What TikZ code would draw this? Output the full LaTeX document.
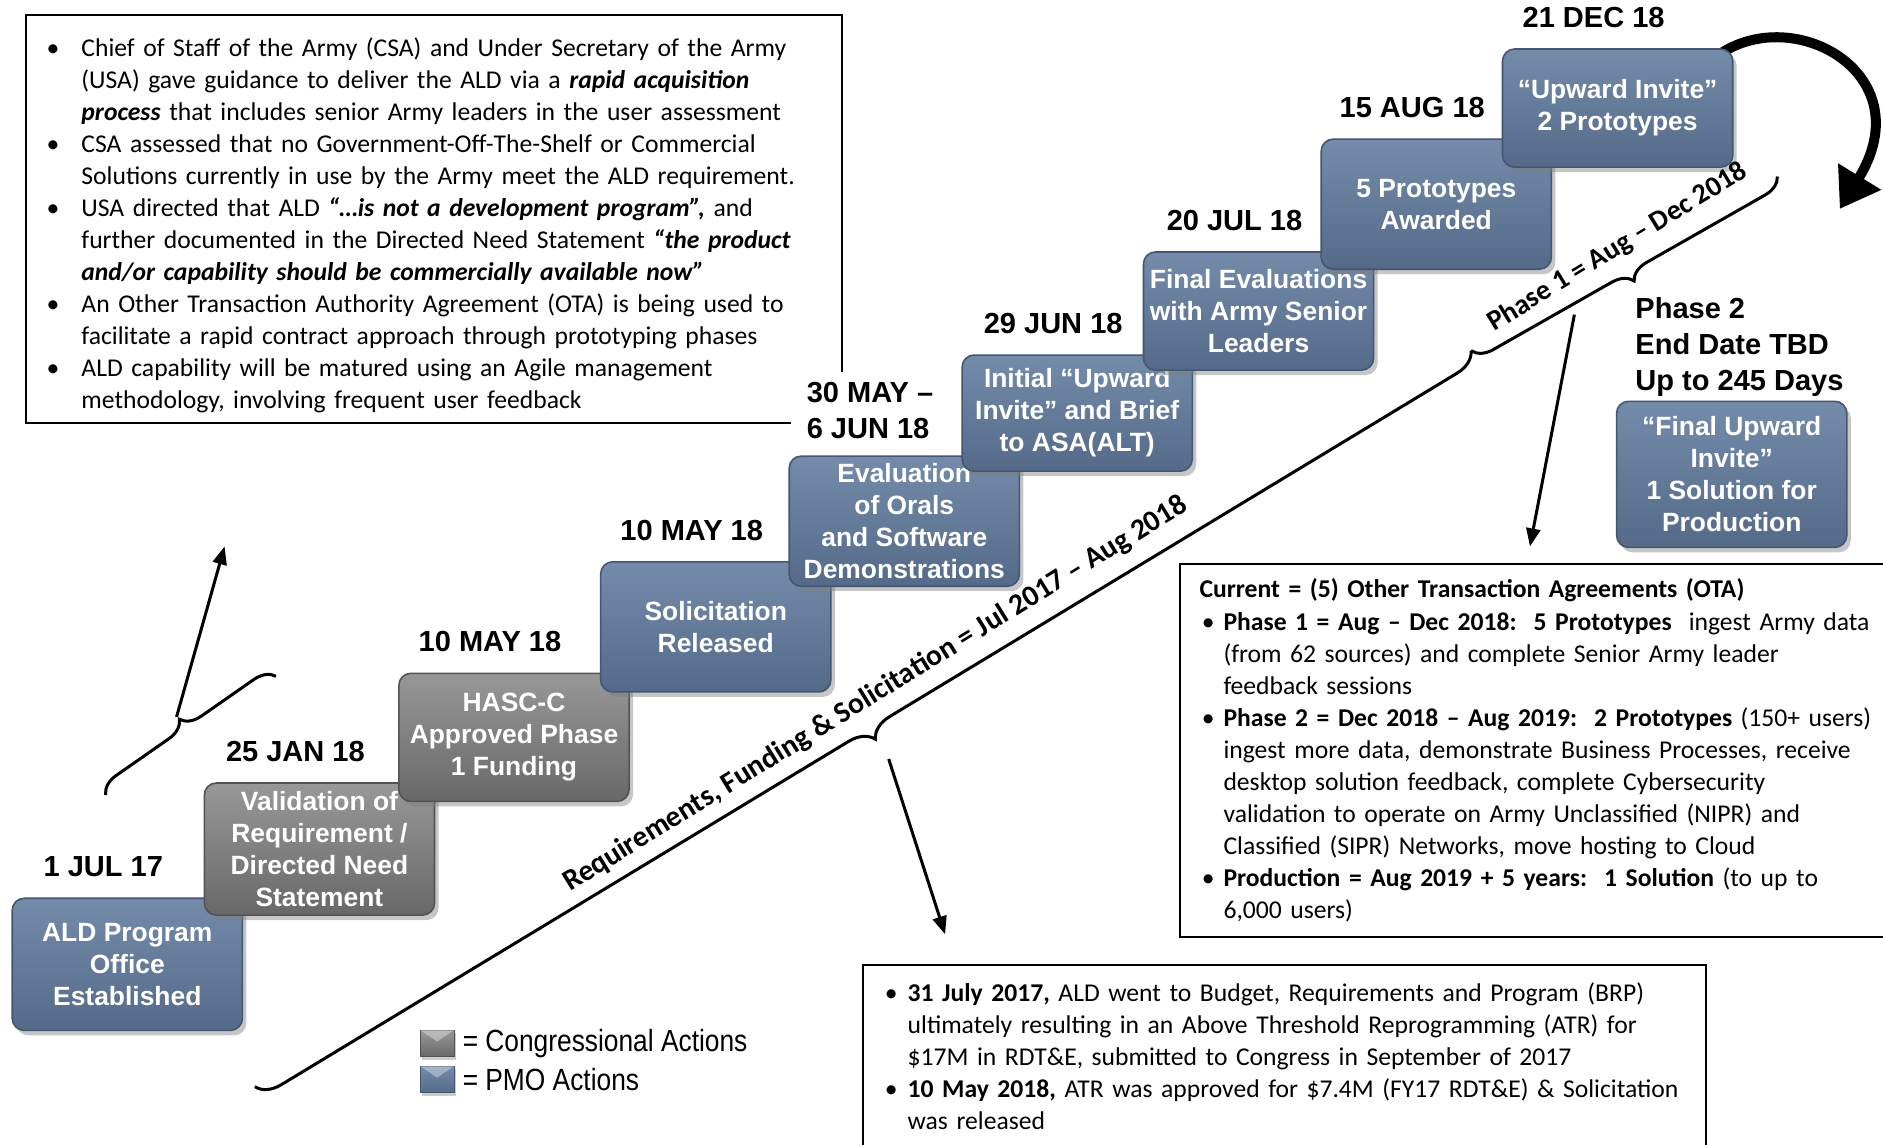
\documentclass[tikz,border=0pt]{standalone}
\usepackage{fontspec}
\setmainfont{Carlito}
\newfontfamily\arialfont{Liberation Sans}
\newfontfamily\narrowfont[FakeStretch=0.86]{Liberation Sans}
\usetikzlibrary{positioning, calc, shadows, arrows.meta, decorations.pathreplacing}

\definecolor{pmotop}{RGB}{116,139,170}
\definecolor{pmobottom}{RGB}{84,106,136}
\definecolor{pmoedge}{RGB}{68,86,112}
\definecolor{cngtop}{RGB}{152,152,152}
\definecolor{cngbottom}{RGB}{104,104,104}
\definecolor{cngedge}{RGB}{82,82,82}

\def\boxw{115pt}
\def\bodyfont{\fontsize{12.8pt}{16pt}\selectfont}
\def\stepfont{\arialfont\bfseries\fontsize{13.2pt}{16pt}\selectfont}
\def\datefont{\arialfont\bfseries\fontsize{14.5pt}{18pt}\selectfont}
\def\spanfont{\bfseries\fontsize{14.8pt}{16pt}\selectfont}
\def\legendfont{\narrowfont\fontsize{15.3pt}{18pt}\selectfont}

\newenvironment{bullets}[2]{\begin{list}{\textbullet}{%
	\setlength{\leftmargin}{#1}\setlength{\labelsep}{#2}\setlength{\labelwidth}{12pt}%
	\setlength{\itemsep}{0pt}\setlength{\parsep}{0pt}%
	\setlength{\topsep}{0pt}\setlength{\partopsep}{0pt}}}{\end{list}}

\tikzset{
% Step boxes
stepbox/.style={
	rounded corners=6pt, line width=0.8pt,
	minimum width=\boxw, inner sep=1pt,
	text=white, font=\stepfont, align=center,
	drop shadow={shadow xshift=2pt, shadow yshift=-2.5pt, opacity=0.45},
},
pmo/.style={stepbox, top color=pmotop, bottom color=pmobottom, draw=pmoedge},
congress/.style={stepbox, top color=cngtop, bottom color=cngbottom, draw=cngedge},
% Dates
date/.style={font=\datefont, inner sep=0pt},
% Text boxes
textbox/.style={draw, line width=1pt, align=left, font=\bodyfont, anchor=north west},
% Braces
span/.style={font=\spanfont, inner sep=0pt},
brace/.style={line width=1.5pt, decorate, decoration={brace, amplitude=#1}},
% Arrows
pointer/.style={line width=1.5pt, -{Triangle[length=9pt, width=7pt]}},
bigarrow/.style={line width=5pt, -{Triangle[length=19pt, width=24pt]}},
% Legend
legendicon/.style={minimum width=16.8pt, minimum height=13.2pt, inner sep=0pt, line width=0.4pt,
	top color=#1top, bottom color=#1bottom, draw=#1edge,
	drop shadow={shadow xshift=1pt, shadow yshift=-1.5pt, opacity=0.4}},
legend/.style={font=\legendfont, inner sep=1pt},
}

\begin{document}
\begin{tikzpicture}[x=0.6pt, y=-0.6pt]
	\useasboundingbox (0,0) rectangle (1568,953);

	% Text boxes
	\node[textbox, text width=395.4pt, inner xsep=6pt, minimum height=203.4pt] (guidance) at (21,12) {%
		\begin{bullets}{21.6pt}{11pt}
		\item Chief of Staff of the Army (CSA) and Under Secretary of the Army\newline
			(USA) gave guidance to deliver the ALD via a \textbf{\textit{rapid acquisition}}\newline
			\textbf{\textit{process}} that includes senior Army leaders in the user assessment
		\item CSA assessed that no Government-Off-The-Shelf or Commercial\newline
			Solutions currently in use by the Army meet the ALD requirement.
		\item USA directed that ALD \textbf{\textit{“…is not a development program”,}} and\newline
			further documented in the Directed Need Statement \textbf{\textit{“the product}}\newline
			\textbf{\textit{and/or capability should be commercially available now”}}
		\item An Other Transaction Authority Agreement (OTA) is being used to\newline
			facilitate a rapid contract approach through prototyping phases
		\item ALD capability will be matured using an Agile management\newline
			methodology, involving frequent user feedback
		\end{bullets}};

	\node[textbox, text width=360pt, inner xsep=9.6pt, minimum height=186pt] (ota) at (982,469) {%
		\textbf{Current = (5) Other Transaction Agreements (OTA)}
		\begin{bullets}{12pt}{4.5pt}
		\item \textbf{Phase 1 = Aug – Dec 2018:\ \ 5 Prototypes}\ \ ingest Army data\newline
			(from 62 sources) and complete Senior Army leader\newline
			feedback sessions
		\item \textbf{Phase 2 = Dec 2018 – Aug 2019:\ \ 2 Prototypes} (150+ users)\newline
			ingest more data, demonstrate Business Processes, receive\newline
			desktop solution feedback, complete Cybersecurity\newline
			validation to operate on Army Unclassified (NIPR) and\newline
			Classified (SIPR) Networks, move hosting to Cloud
		\item \textbf{Production = Aug 2019 + 5 years:\ \ 1 Solution} (to up to\newline
			6,000 users)
		\end{bullets}};

	\node[textbox, text width=409.2pt, inner xsep=6pt, inner ysep=2pt] (atr) at (718,803) {%
		\begin{bullets}{16.2pt}{5pt}
		\item \textbf{31 July 2017,} ALD went to Budget, Requirements and Program (BRP)\newline
			ultimately resulting in an Above Threshold Reprogramming (ATR) for\newline
			\$17M in RDT\&E, submitted to Congress in September of 2017
		\item \textbf{10 May 2018,} ATR was approved for \$7.4M (FY17 RDT\&E) \& Solicitation\newline
			was released
		\end{bullets}\par\mbox{}};

	% Curved arrow to Phase 2
	\coordinate (bendtip) at (1532,174);
	\draw[bigarrow] (1428,48) .. controls (1490,0) and (1602,60) .. (bendtip);

	% Steps
	\node[pmo, minimum height=66pt] (s1) at (106,803) {ALD Program\\Office\\Established};
	\node[congress, minimum height=66pt] (s2) at (266,707) {Validation of\\Requirement /\\Directed Need\\Statement};
	\node[congress, minimum height=64pt] (s3) at (428,614) {HASC-C\\Approved Phase\\1 Funding};
	\node[pmo, minimum height=65pt] (s4) at (596,522) {Solicitation\\Released};
	\node[pmo, minimum height=65pt] (s5) at (753,434) {Evaluation\\of Orals\\and Software\\Demonstrations};
	\node[pmo, minimum height=58pt] (s6) at (897,344) {Initial “Upward\\Invite” and Brief\\to ASA(ALT)};
	\node[pmo, minimum height=59pt] (s7) at (1048,259) {Final Evaluations\\with Army Senior\\Leaders};
	\node[pmo, minimum height=65pt] (s8) at (1196,170) {5 Prototypes\\Awarded};
	\node[pmo, minimum height=59pt] (s9) at (1347,90) {“Upward Invite”\\2 Prototypes};
	\node[pmo, minimum height=73pt] (s10) at (1442,395) {“Final Upward\\Invite”\\1 Solution for\\Production};

	% Dates
	\node[date, above=10pt of s1.north, xshift=-12pt] (d1) {1 JUL 17};
	\node[date, above=10pt of s2.north, xshift=-12pt] (d2) {25 JAN 18};
	\node[date, above=10pt of s3.north, xshift=-12pt] (d3) {10 MAY 18};
	\node[date, above=10pt of s4.north, xshift=-12pt] (d4) {10 MAY 18};
	\node[date, align=left, fill=white, anchor=south west, inner xsep=8pt, inner ysep=5pt]
		(d5) at ([xshift=1pt, yshift=3pt]s5.north west) {30 MAY –\\6 JUN 18};
	\node[date, above=10pt of s6.north, xshift=-12pt] (d6) {29 JUN 18};
	\node[date, above=10pt of s7.north, xshift=-12pt] (d7) {20 JUL 18};
	\node[date, above=10pt of s8.north, xshift=-12pt] (d8) {15 AUG 18};
	\node[date, above=10pt of s9.north, xshift=-12pt] (d9) {21 DEC 18};
	\node[date, align=left, anchor=south west] (d10) at ([xshift=9.6pt, yshift=2pt]s10.north west)
		{Phase 2\\End Date TBD\\Up to 245 Days};

	% Braces
	\coordinate (lowstart) at (88,662);
	\coordinate (lowend) at (230,563);
	\coordinate (reqstart) at (1225,292);
	\coordinate (reqend) at (212,905);
	\coordinate (phstart) at (1480,147);
	\draw[brace=10pt] (lowstart) -- (lowend);
	\draw[brace=12pt] (reqstart) -- (reqend);
	\draw[brace=10pt] (phstart) -- (reqstart);
	\node[span, rotate=31.7] (reqtext) at (729,578) {Requirements, Funding \& Solicitation = Jul 2017 – Aug 2018};
	\node[span, rotate=31.5, font=\bfseries\fontsize{14.2pt}{16pt}\selectfont] (phtext) at (1347,206) {Phase 1 = Aug – Dec 2018};

	% Pointers
	\coordinate (lowtip) at (147,597);
	\coordinate (lowhead) at (187,455);
	\coordinate (reqtip) at (740,632);
	\coordinate (reqhead) at (787,778);
	\coordinate (phtip) at (1311,262);
	\coordinate (phhead) at (1274,455);
	\draw[pointer] (lowtip) -- (lowhead);
	\draw[pointer] (reqtip) -- (reqhead);
	\draw[pointer] (phtip) -- (phhead);

	% Legend
	\node[legendicon=cng] (lg1) at (364,869) {};
	\node[legendicon=pmo] (lg2) at (364,899) {};
	\fill[white, opacity=0.35] (lg1.north west) -- (lg1.north east) -- ($(lg1.center)+(0,1pt)$) -- cycle;
	\fill[white, opacity=0.35] (lg2.north west) -- (lg2.north east) -- ($(lg2.center)+(0,1pt)$) -- cycle;
	\node[legend, right=3pt of lg1] (lt1) {= Congressional Actions};
	\node[legend, right=3pt of lg2] (lt2) {= PMO Actions};
\end{tikzpicture}
\end{document}
